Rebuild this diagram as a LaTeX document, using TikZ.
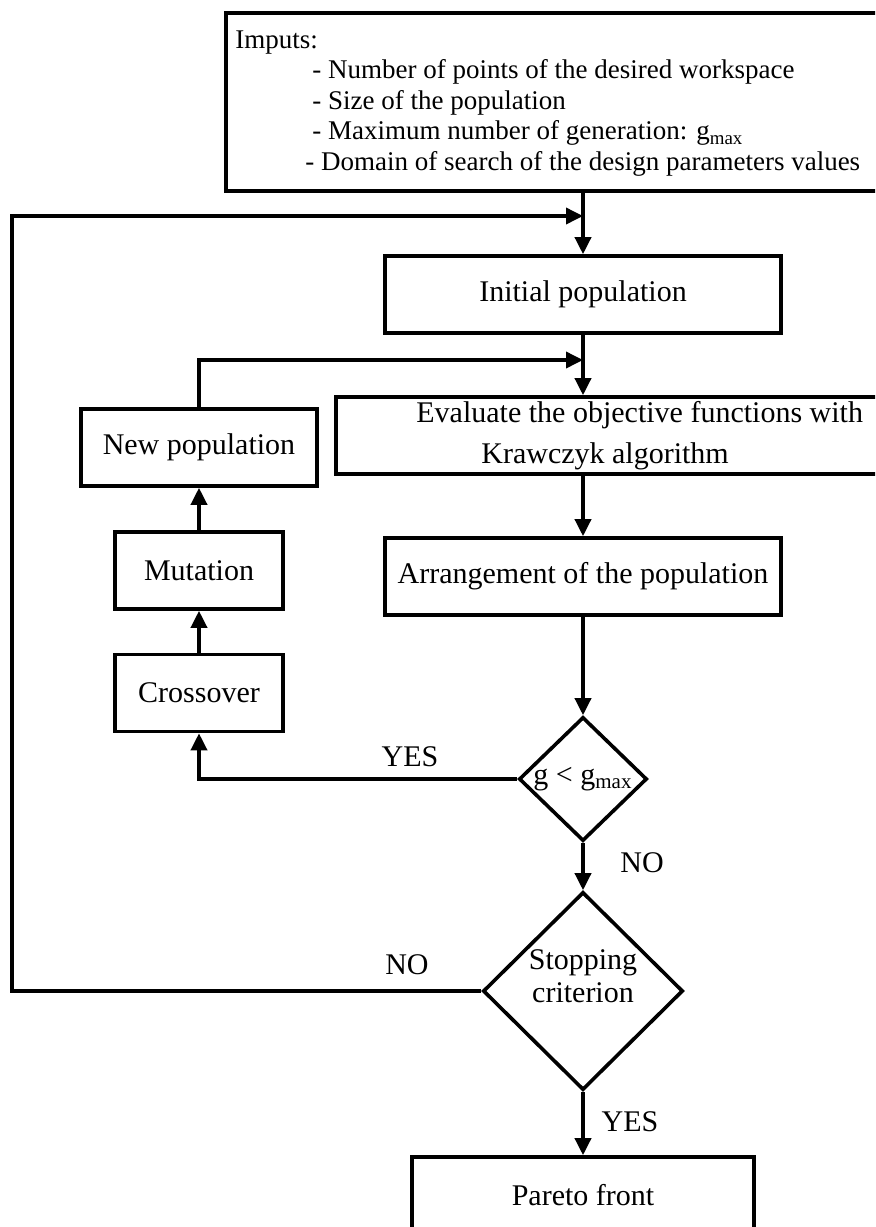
\documentclass[tikz,border=0pt]{standalone}
\usepackage{fontspec}
\setmainfont{Liberation Serif}
\usetikzlibrary{shapes.geometric,arrows.meta}

\tikzset{
  block/.style={draw, line width=1.8pt, minimum height=38.5pt, inner sep=0pt, font=\fontsize{15}{18}\selectfont},
  decision/.style={draw, diamond, line width=1.8pt, inner sep=0pt, font=\fontsize{15}{18}\selectfont},
  flow/.style={line width=1.8pt, -{Triangle[length=8.5pt,width=8pt]}},
  tag/.style={font=\fontsize{15}{18}\selectfont}
}

\begin{document}
\begin{tikzpicture}[x=0.5pt, y=-0.5pt]

\useasboundingbox (0,0) rectangle (875,1227);
\clip (0,0) rectangle (875,1227);

\coordinate (feedback) at (583,216);
\coordinate (farleft) at (12,216);
\coordinate (merge) at (583,360);

\node [block, minimum width=340pt, minimum height=89pt] (inputs) at (566,102) {};
\node [anchor=north west, align=left, inner sep=0pt, font=\fontsize{13.5}{15.3}\selectfont] (inputlist) at (235,30)
  {Imputs:\\
   \hspace*{38.5pt}- Number of points of the desired workspace\\
   \hspace*{38.5pt}- Size of the population\\
   \hspace*{38.5pt}- Maximum number of generation: g\textsubscript{max}\\
   \hspace*{35pt}- Domain of search of the design parameters values};

\node [block, minimum width=198pt] (init) at (583,294.5) {Initial population};
\node [block, minimum width=282pt] (eval) at (618,435.5) {};
\node [tag, anchor=west, align=left, inner sep=0pt, font=\fontsize{15}{20.5}\selectfont] (evaltext) at (416,436)
  {Evaluate the objective functions with\\\hspace*{32.5pt}Krawczyk algorithm};
\node [block, minimum width=198pt] (arrange) at (583,576.5) {Arrangement of the population};

\node [block, minimum width=118pt] (newpop) at (199,447.5) {New population};
\node [block, minimum width=84pt] (mut) at (199,570.5) {Mutation};
\node [block, minimum width=84pt] (cross) at (199,693) {Crossover};

\node [decision, minimum width=64pt, minimum height=62pt] (gtest) at (583,779) {g < g\textsubscript{max}};
\node [decision, minimum width=100pt, minimum height=99pt,
  label={[tag, align=center, yshift=7.5pt, font=\fontsize{15}{16.5}\selectfont]center:Stopping\\criterion}] (stop) at (583,991) {};

\node [block, minimum width=171pt] (pareto) at (583,1195.5) {Pareto front};

% main column
\draw [flow] (inputs.south -| init.north) -- (init.north);
\draw [flow] (init.south) -- (init.south |- eval.north);
\draw [flow] (eval.south -| arrange.north) -- (arrange.north);
\draw [flow] (arrange.south) -- (gtest.north);
\draw [flow] (gtest.south) -- (stop.north);
\draw [flow] (stop.south) -- (pareto.north);

% genetic loop
\draw [flow] (gtest.west) -| (cross.south);
\draw [flow] (cross.north) -- (mut.south);
\draw [flow] (mut.north) -- (newpop.south);
\draw [flow] (newpop.north) |- (merge);

% restart loop
\draw [flow] (stop.west) -| (farleft) -- (feedback);

\node [tag] (yesloop) at (410,757) {YES};
\node [tag] (nogtest) at (642,863) {NO};
\node [tag] (nostop) at (407,965) {NO};
\node [tag] (yesstop) at (630,1122) {YES};

\end{tikzpicture}
\end{document}
